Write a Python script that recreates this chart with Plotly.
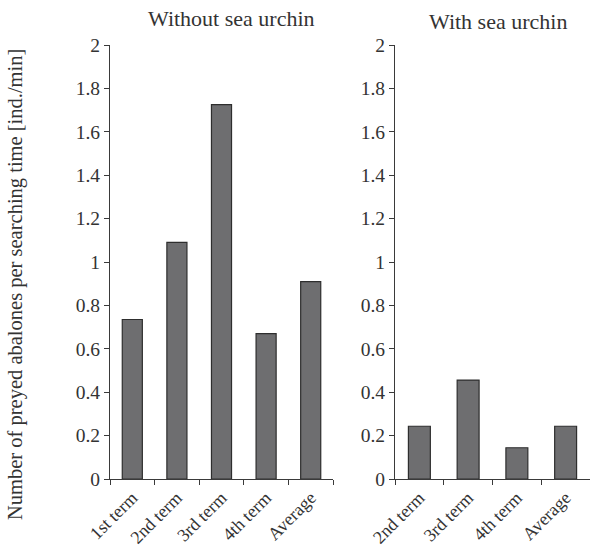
import plotly.graph_objects as go
from plotly.subplots import make_subplots

# Predation rates per searching time, by term
terms_without = ["1st term", "2nd term", "3rd term", "4th term", "Average"]
rate_without = [0.735, 1.09, 1.725, 0.67, 0.91]

terms_with = ["2nd term", "3rd term", "4th term", "Average"]
rate_with = [0.243, 0.456, 0.144, 0.243]

title_without = "Without sea urchin"
title_with = "With sea urchin"
y_title = "Number of preyed abalones per searching time [ind./min]"

W, H = 590, 549
FONT = "Liberation Serif, Times New Roman, serif"
TXT = "#333333"
BAR_FILL = "#6e6e70"
BAR_LINE = "#2e2e2e"
AX = "#3a3a3a"

fig = make_subplots(rows=1, cols=2)

fig.add_trace(go.Bar(x=terms_without, y=rate_without, marker=dict(color=BAR_FILL, line=dict(color=BAR_LINE, width=1.2)),
                     showlegend=False), row=1, col=1)
fig.add_trace(go.Bar(x=terms_with, y=rate_with, marker=dict(color=BAR_FILL, line=dict(color=BAR_LINE, width=1.2)),
                     showlegend=False), row=1, col=2)

y0, y1 = (H - 479) / H, (H - 45) / H

xax = dict(showline=True, linecolor=AX, linewidth=1.2, ticks="outside", tickson="boundaries",
           ticklen=5, tickcolor=AX, tickangle=-45, showgrid=False, zeroline=False, automargin=False,
           tickfont=dict(family=FONT, size=18, color=TXT))
yax = dict(range=[0, 2], dtick=0.2, showline=True, linecolor=AX, linewidth=1.2, ticks="outside",
           ticklen=5, tickcolor=AX, showgrid=False, zeroline=False, automargin=False,
           tickfont=dict(family=FONT, size=19.5, color=TXT))

fig.update_layout(
    width=W, height=H,
    margin=dict(l=0, r=0, t=0, b=0),
    paper_bgcolor="white", plot_bgcolor="white",
    bargap=0.55,
    xaxis=dict(domain=[110 / W, 333 / W], **xax),
    xaxis2=dict(domain=[395 / W, 1.0], **xax),
    yaxis=dict(domain=[y0, y1], **yax),
    yaxis2=dict(domain=[y0, y1], **yax),
    annotations=[
        dict(text=title_without, x=231 / W, y=1 - 19 / H, xref="paper", yref="paper",
             xanchor="center", yanchor="middle",
             showarrow=False, font=dict(family=FONT, size=22, color=TXT)),
        dict(text=title_with, x=498 / W, y=1 - 21 / H, xref="paper", yref="paper",
             xanchor="center", yanchor="middle",
             showarrow=False, font=dict(family=FONT, size=22, color=TXT)),
        dict(text=y_title, x=15 / W, y=1 - 285 / H, xref="paper", yref="paper", textangle=-90,
             xanchor="center", yanchor="middle",
             showarrow=False, font=dict(family=FONT, size=20.5, color=TXT)),
    ],
)

fig.write_html("out.html")
